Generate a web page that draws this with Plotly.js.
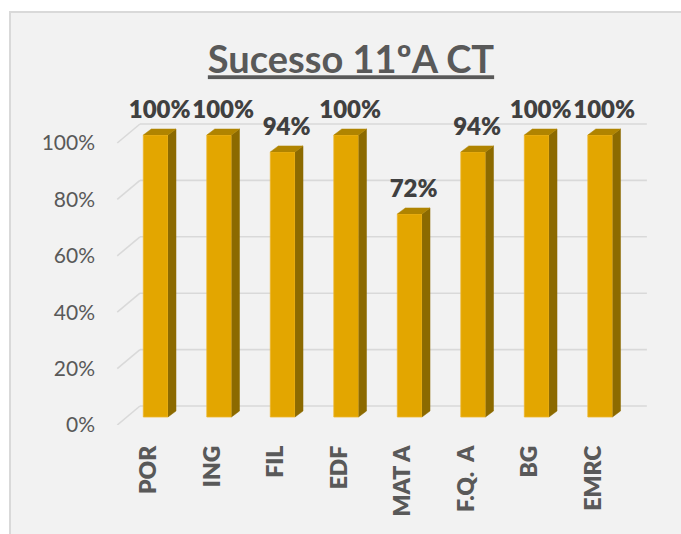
<!DOCTYPE html>
<html>
<head>
<meta charset="utf-8">
<script src="https://cdn.plot.ly/plotly-3.0.1.min.js"></script>
<style>
  html, body { margin: 0; padding: 0; background: #ffffff; width: 681px; height: 534px; overflow: hidden; }
  #panel { position: absolute; left: 9px; top: 11px; width: 720px; height: 600px; background: #f2f2f2; border: 2px solid #d9d9d9; }
  #chart { position: absolute; left: 0; top: 0; width: 681px; height: 534px; }
</style>
</head>
<body>
<div id="panel"></div>
<div id="chart"></div>
<script>
// ---- data ----
const categories = ["POR", "ING", "FIL", "EDF", "MAT A", "F.Q.  A", "BG", "EMRC"];
const successPct = [100, 100, 94, 100, 72, 94, 100, 100];
const tickValsPct = [0, 20, 40, 60, 80, 100];
const tickTextPct = ["0%", "20%", "40%", "60%", "80%", "100%"];

// ---- pseudo-3D geometry (in axis units) ----
const barBase = 2.84;      // bars sit slightly behind the front edge of the floor
const wallOffset = 6.74;   // back wall gridlines are further back/up
const barShift = 0.105;    // bars sit in the middle of the depth
const barWidth = 0.389;
const depthX = 0.126;
const depthY = 2.13;

const idx = categories.map((c, i) => i);

const frontTrace = {
  type: "bar",
  x: idx,
  y: successPct,
  base: barBase,
  width: barWidth,
  offset: barShift - barWidth / 2,
  marker: { color: "#E3A600", line: { color: "#EDB52A", width: 0.8 } },
  hoverinfo: "skip",
  showlegend: false
};

const sideX = [], sideY = [], topX = [], topY = [];
idx.forEach((i) => {
  const v = successPct[i];
  const xl = i + barShift - barWidth / 2;
  const xr = i + barShift + barWidth / 2;
  sideX.push(xr, xr + depthX, xr + depthX, xr, null);
  sideY.push(barBase, barBase + depthY, barBase + v + depthY, barBase + v, null);
  topX.push(xl, xl + depthX, xr + depthX, xr, null);
  topY.push(barBase + v, barBase + v + depthY, barBase + v + depthY, barBase + v, null);
});

const sideTrace = {
  type: "scatter", mode: "lines", x: sideX, y: sideY, fill: "toself",
  fillcolor: "#8C6A00", line: { color: "#8C6A00", width: 0.5 },
  hoverinfo: "skip", showlegend: false
};
const topTrace = {
  type: "scatter", mode: "lines", x: topX, y: topY, fill: "toself",
  fillcolor: "#B08400", line: { color: "#B08400", width: 0.5 },
  hoverinfo: "skip", showlegend: false
};
const labelTrace = {
  type: "scatter", mode: "text",
  x: idx.map(i => i + barShift + depthX / 2),
  y: successPct.map(v => barBase + v + 3.8),
  text: successPct.map(v => v + "%"),
  textposition: "top center",
  textfont: { family: "Lato, sans-serif", size: 24, color: "#404040", weight: 800 },
  cliponaxis: false,
  hoverinfo: "skip", showlegend: false
};

// gridlines on the back wall + connecting diagonals (below the bars)
const shapes = [];
tickValsPct.forEach((v) => {
  shapes.push({ type: "line", xref: "x", yref: "y", layer: "below",
    x0: -0.142, x1: 7.84, y0: v + wallOffset, y1: v + wallOffset,
    line: { color: "#d9d9d9", width: 1.6 } });
  shapes.push({ type: "line", xref: "x", yref: "y", layer: "below",
    x0: -0.5, x1: -0.142, y0: v, y1: v + wallOffset,
    line: { color: "#d9d9d9", width: 1.6 } });
});

const layout = {
  width: 681, height: 534,
  margin: { l: 110, r: 21, t: 100, b: 109 },
  paper_bgcolor: "rgba(0,0,0,0)",
  plot_bgcolor: "rgba(0,0,0,0)",
  title: {
    text: "Sucesso 11ºA CT",
    x: 351 / 681, xanchor: "center", xref: "container",
    y: 1 - 60 / 534, yanchor: "middle", yref: "container",
    font: { family: "Lato, sans-serif", size: 38, color: "#595959", weight: 700, lineposition: "under" }
  },
  xaxis: {
    type: "linear",
    range: [-0.614, 8.047],
    tickvals: idx, ticktext: categories,
    tickangle: -90,
    tickfont: { family: "Lato, sans-serif", size: 23, color: "#595959", weight: 800 },
    showgrid: false, zeroline: false, showline: false, ticks: "",
    ticklabelstandoff: 15,
    fixedrange: true
  },
  yaxis: {
    range: [0, 115.25],
    tickvals: tickValsPct, ticktext: tickTextPct,
    tickfont: { family: "Lato, sans-serif", size: 21, color: "#595959" },
    showgrid: false, zeroline: false, showline: false, ticks: "",
    ticklabelstandoff: 14,
    fixedrange: true
  },
  shapes: shapes,
  bargap: 0,
  showlegend: false
};

Plotly.newPlot("chart", [frontTrace, sideTrace, topTrace, labelTrace], layout, { staticPlot: true, displayModeBar: false });
</script>
</body>
</html>
